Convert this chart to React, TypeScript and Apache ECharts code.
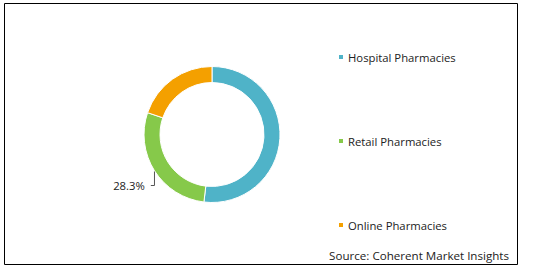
import React, { useEffect, useRef } from "react";
import * as echarts from "echarts";

const categories = ["Hospital Pharmacies", "Retail Pharmacies", "Online Pharmacies"];
const values = [51.9, 28.3, 19.8];
const colors = ["#4FB3C8", "#86C94A", "#F4A000"];
const labeledIndex = 1;
const sourceText = "Source: Coherent Market Insights";

export default function App() {
  const ref = useRef<HTMLDivElement>(null);
  useEffect(() => {
    document.body.style.margin = "0";
    const chart = echarts.init(ref.current!, null, { renderer: "svg" });
    const font = "'Open Sans', sans-serif";
    chart.setOption({
      animation: false,
      backgroundColor: "#ffffff",
      color: colors,
      legend: {
        orient: "vertical",
        left: 337,
        top: 51.5,
        padding: 0,
        itemWidth: 6,
        itemHeight: 6,
        itemGap: 73,
        icon: "rect",
        selectedMode: false,
        textStyle: { fontFamily: font, fontSize: 11.3, color: "#222", padding: [0, 0, 0, -1] },
        data: categories,
      },
      graphic: [
        {
          type: "rect",
          shape: { x: 4.5, y: 3.5, width: 513, height: 261 },
          style: { fill: "none", stroke: "#000", lineWidth: 1 },
          silent: true,
        },
        {
          type: "text",
          right: 25,
          top: 249.5,
          style: { text: sourceText, font: `11.6px ${font}`, fill: "#222" },
        },
      ],
      series: [
        {
          type: "pie",
          center: [212, 134.5],
          radius: [52, 68],
          startAngle: 90,
          clockwise: true,
          itemStyle: { borderColor: "#fff", borderWidth: 1 },
          label: {
            show: false,
            position: "outside",
            fontFamily: font,
            fontSize: 11.3,
            color: "#222",
            backgroundColor: "rgba(255,255,255,0)",
            padding: [0, 6, 0, 0],
            formatter: (p: any) => p.value.toFixed(1) + "%",
          },
          labelLine: { show: false, length: 4, length2: 6, lineStyle: { color: "#555", width: 1 } },
          labelLayout: (params: any) =>
            params.dataIndex === labeledIndex ? { x: 132, y: 185.5, align: "center", verticalAlign: "middle" } : {},
          data: categories.map((c, i) => ({
            name: c,
            value: values[i],
            label: { show: i === labeledIndex },
            labelLine: { show: i === labeledIndex },
          })),
        },
      ],
    });
    return () => chart.dispose();
  }, []);
  return <div ref={ref} style={{ width: 534, height: 269 }} />;
}
